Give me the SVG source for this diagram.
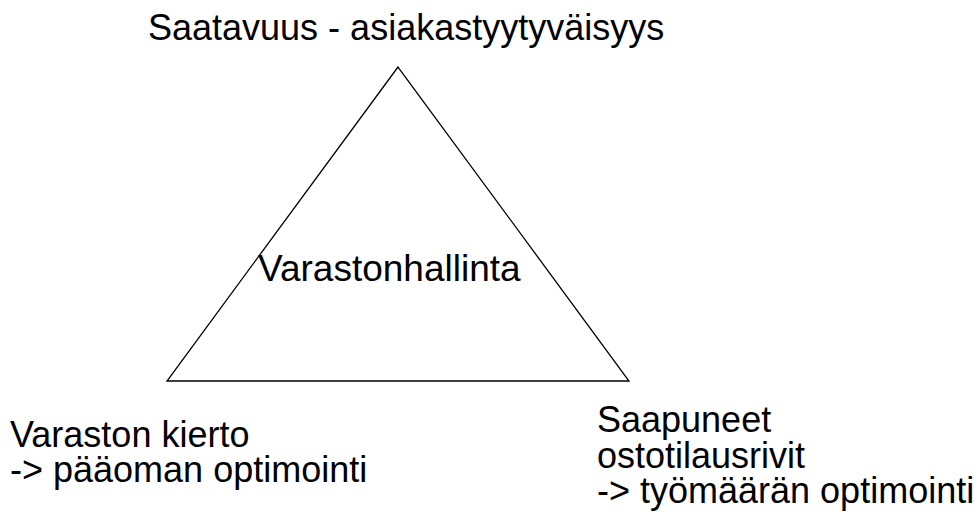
<svg xmlns="http://www.w3.org/2000/svg" width="974" height="528" viewBox="0 0 974 528">
<style>
text { font-family: "Liberation Sans", Arial, sans-serif; font-size: 36px; fill: #000; }
.edge { fill: none; stroke: #000; stroke-width: 1.3; }
</style>
<rect width="974" height="528" fill="#fff"/>
<g id="connectors">
<path class="edge" d="M398,67 L167,381 L629,381 Z"/>
</g>
<g id="node-top"><text x="148" y="40">Saatavuus - asiakastyytyväisyys</text></g>
<g id="node-center"><text x="258" y="281" style="font-size:37px">Varastonhallinta</text></g>
<g id="node-left"><text x="10" y="447">Varaston kierto</text><text x="10" y="482">-&gt; pääoman optimointi</text></g>
<g id="node-right"><text x="597" y="432">Saapuneet</text><text x="597" y="468">ostotilausrivit</text><text x="597" y="503">-&gt; työmäärän optimointi</text></g>
</svg>
